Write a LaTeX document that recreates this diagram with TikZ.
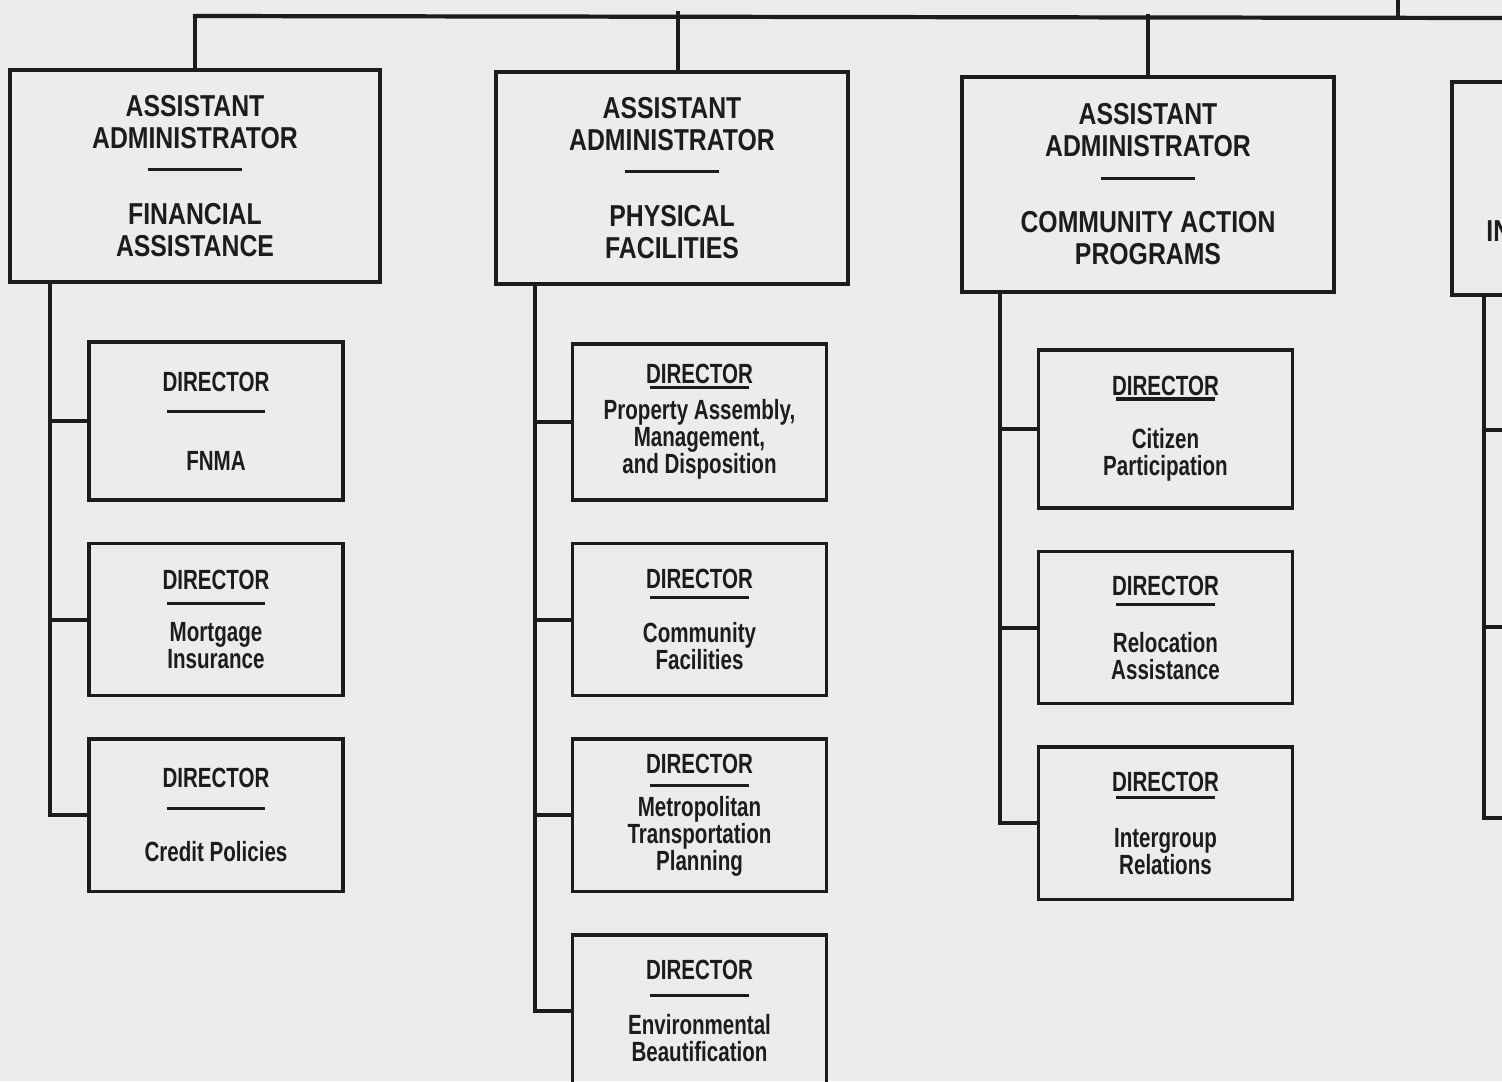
\documentclass[tikz,border=0pt]{standalone}
\usepackage{fontspec}
\newfontfamily\headfont[FakeStretch=0.82]{Liberation Sans}
\newfontfamily\dirfont[FakeStretch=0.74]{Liberation Sans}
\definecolor{ink}{RGB}{28,28,28}
\definecolor{paper}{RGB}{236,236,234}
\usetikzlibrary{positioning}

\newcommand\headrule{\\[-2.6pt]\rule{27pt}{0.9pt}\\[6pt]}
\newcommand\dirrule[2]{\\[#1]\rule{28pt}{0.9pt}\\[#2]}

\tikzset{
  every picture/.style={color=ink},
  headbox/.style={draw, line width=1.1pt, minimum width=3.7cm, minimum height=2.12cm,
    align=center, inner sep=0pt, font=\headfont\bfseries\fontsize{8.6}{9.1}\selectfont},
  dirbox/.style={draw, line width=1pt, minimum width=2.54cm, minimum height=1.52cm,
    align=center, inner sep=0pt, font=\dirfont\bfseries\fontsize{7.9}{7.7}\selectfont},
  link/.style={line width=1.2pt, line cap=rect}
}

\begin{document}
\begin{tikzpicture}[x=0.01cm, y=-0.01cm, node distance=0.4cm]
  \path[use as bounding box, clip] (0,0) rectangle (1502,1081);
  \fill[paper] (0,0) rectangle (1502,1081);

  % assistant administrators
  \node[headbox, minimum width=3.7cm] (h1) at (195,176)
    {ASSISTANT\\ADMINISTRATOR\headrule FINANCIAL\\ASSISTANCE};
  \node[headbox, minimum width=3.52cm] (h2) at (672,178)
    {ASSISTANT\\ADMINISTRATOR\headrule PHYSICAL\\FACILITIES};
  \node[headbox, minimum width=3.72cm, minimum height=2.15cm] (h3) at (1148,184.5)
    {ASSISTANT\\ADMINISTRATOR\headrule COMMUNITY ACTION\\PROGRAMS};
  \node[headbox, anchor=north west, minimum height=2.13cm,
    label={[anchor=west, xshift=0.24cm, yshift=-0.43cm,
      font=\headfont\bfseries\fontsize{8.6}{9.1}\selectfont]west:IN}] (h4) at (1450,80) {};

  % directors
  \node[dirbox, minimum height=1.58cm] (s11) at (216,421)
    {DIRECTOR\dirrule{-1.4pt}{8.5pt}FNMA};
  \node[dirbox, below=of s11] (s12)
    {DIRECTOR\dirrule{-3.4pt}{2.8pt}Mortgage\\Insurance};
  \node[dirbox, below=of s12] (s13)
    {DIRECTOR\dirrule{-1.4pt}{7.1pt}Credit Policies};

  \node[dirbox, minimum height=1.56cm] (s21) at (699.5,422)
    {DIRECTOR\dirrule{-6.3pt}{1.1pt}Property Assembly,\\Management,\\and Disposition};
  \node[dirbox, below=of s21] (s22)
    {DIRECTOR\dirrule{-4.8pt}{4.8pt}Community\\Facilities};
  \node[dirbox, below=of s22] (s23)
    {DIRECTOR\dirrule{-3.7pt}{0.6pt}Metropolitan\\Transportation\\Planning};
  \node[dirbox, below=of s23] (s24)
    {DIRECTOR\dirrule{-2.8pt}{2.8pt}Environmental\\Beautification};

  \node[dirbox, minimum height=1.58cm] (s31) at (1165.5,429)
    {DIRECTOR\dirrule{-6.3pt}{6pt}Citizen\\Participation};
  \node[dirbox, below=of s31] (s32)
    {DIRECTOR\dirrule{-4.6pt}{5.4pt}Relocation\\Assistance};
  \node[dirbox, below=of s32] (s33)
    {DIRECTOR\dirrule{-5.4pt}{6pt}Intergroup\\Relations};

  % top line
  \coordinate (busl) at (195,16);
  \coordinate (busr) at (1502,18);
  \coordinate (up) at (1398,0);
  \draw[link] (busl) -- (busr);
  \draw[link] (up) -- (up |- busl);
  \draw[link] (h1.north) -- (h1.north |- busl);
  \draw[link] (h2.north) ++(6,0) -- ++(0,-57);
  \draw[link] (h3.north) -- (h3.north |- busl);

  % spines
  \coordinate (sp1) at (50,0);
  \coordinate (sp2) at (535,0);
  \coordinate (sp3) at (1000,0);
  \coordinate (sp4) at (1484,0);
  \draw[link] (h1.south -| sp1) |- (s13.west);
  \draw[link] (s11.west) -- (s11.west -| sp1);
  \draw[link] (s12.west) -- (s12.west -| sp1);
  \draw[link] (h2.south -| sp2) |- (s24.west);
  \draw[link] (s21.west) -- (s21.west -| sp2);
  \draw[link] (s22.west) -- (s22.west -| sp2);
  \draw[link] (s23.west) -- (s23.west -| sp2);
  \draw[link] (h3.south -| sp3) |- (s33.west);
  \draw[link] (s31.west) -- (s31.west -| sp3);
  \draw[link] (s32.west) -- (s32.west -| sp3);

  \coordinate (t41) at (1502,430);
  \coordinate (t42) at (1502,627);
  \coordinate (t43) at (1502,818);
  \draw[link] (h4.south -| sp4) |- (t43);
  \draw[link] (t41 -| sp4) -- (t41);
  \draw[link] (t42 -| sp4) -- (t42);
\end{tikzpicture}
\end{document}
